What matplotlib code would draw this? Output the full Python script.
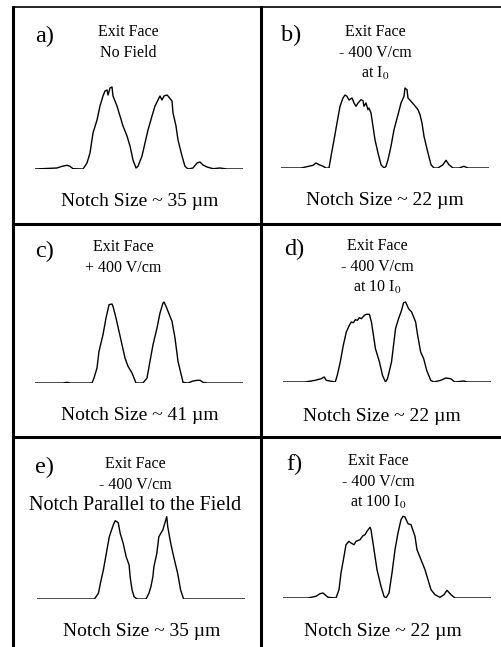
"""Exit face notch profiles, six panels."""
import matplotlib
matplotlib.use("Agg")
import matplotlib.pyplot as plt
from matplotlib.lines import Line2D

plt.rcParams['font.family'] = ['Liberation Serif', 'DejaVu Serif']
plt.rcParams['mathtext.fontset'] = 'stix'

W, H = 502, 647

# scan profiles: position (a.u.) and intensity (a.u.)
pos_a = [0, 22, 27, 32, 35, 38, 48, 52, 55, 58, 62, 65, 68, 70, 72, 73, 75, 77, 78,
         82, 85, 88, 92, 95, 98, 101, 103, 107, 110, 113, 117, 120, 123, 125, 127,
         129, 132, 133, 137, 138, 141, 143, 147, 150, 153, 158, 162, 165, 168, 172,
         178, 185, 192, 208]
int_a = [0, 1, 2.7, 3.7, 2.7, 0.3, 0, 6, 16, 36, 49, 63, 73, 78, 79, 74, 81, 82, 73,
         63, 53, 43, 33, 23, 9, 1, 2.7, 13, 26, 39, 53, 63, 69, 73, 69,
         73, 74, 73, 68, 56, 43, 29, 13, 2.7, 0, 1, 6, 7, 4, 2,
         0.3, 1, 0, 0]

pos_b = [0, 20, 32, 35, 38, 42, 45, 48, 50, 53, 56, 59, 62, 64, 66, 68, 71, 73, 75,
         77, 80, 82, 83, 85, 87, 88, 90, 92, 94, 97, 100, 103, 105, 107, 110, 113,
         117, 120, 123, 124, 126, 127, 130, 133, 137, 139, 141, 143, 147, 150, 153,
         157, 162, 165, 168, 172, 178, 183, 187, 208]
int_b = [0, 0, 2.7, 5, 3.3, 1.7, 0, 0, 11.7, 28, 45, 61.7, 70, 73, 71.7, 68, 70, 65, 61.7,
         65, 68.3, 67.3, 61.7, 65, 58.3, 60, 55, 41.7, 28.3, 15, 3.3, 0, 1.7, 8.3, 21.7, 38.3,
         53.3, 65, 71.7, 80, 78.3, 70, 66.7, 63.3, 58.3, 53.3, 45, 31.7, 15, 3.3, 0,
         0, 3.3, 7.7, 3.3, 0, 0, 1.7, 0, 0]

pos_c = [0, 28, 32, 35, 57, 59, 62, 64, 68, 71, 74, 77, 78, 81, 84, 87, 90, 93, 97,
         99, 101, 108, 112, 115, 118, 122, 125, 128, 129, 131, 133, 137, 140, 143,
         147, 148, 153, 157, 162, 165, 168, 172, 208]
int_c = [0, 0, 0.7, 0, 0, 5, 15, 31.7, 48.3, 65, 78.3, 79, 76.7, 65, 51.7, 38.3, 25, 16.7, 10,
         5, 0, 0, 5, 21.7, 38.3, 55, 70, 80, 81, 76.7, 71.7, 61.7, 45, 21.7,
         5, 0.7, 0, 1.7, 2.7, 2.7, 0.7, 0, 0]

pos_d = [0, 22, 32, 38, 41, 43, 52, 54, 57, 60, 63, 66, 68, 70, 72, 74, 76, 78, 81,
         83, 86, 88, 90, 92, 96, 99, 102, 104, 108, 110, 112, 115, 118, 120, 122,
         125, 128, 132, 134, 137, 140, 143, 147, 150, 157, 162, 167, 171, 180, 183, 207]
int_d = [0, 0, 1.7, 3.3, 5, 1.7, 0, 6.7, 20, 36.7, 50, 56.7, 60, 59.3, 62.3, 61.7, 64.3, 63.3, 66.7,
         67.7, 67.7, 60, 46.7, 33.3, 20, 6.7, 0, 3.3, 20, 36.7, 53.3, 63.3, 71.7, 79.3, 80,
         73.3, 70, 60, 46.7, 30, 23.3, 11.7, 1.7, 0, 1.7, 4, 3.3, 0, 1, 0, 0]

pos_e = [0, 58, 62, 64, 67, 70, 73, 77, 79, 82, 84, 87, 90, 93, 94, 96, 98, 101, 110,
         113, 115, 117, 118, 121, 123, 127, 129, 131, 132, 135, 138, 142, 145, 148, 210]
int_e = [0, 0, 5.7, 15.7, 29, 45.7, 62.3, 74, 78.3, 76.3, 65.7, 55.7, 42.3, 34, 22.3, 9, 2.3, 0, 0,
         5.7, 12.3, 22.3, 32.3, 45.7, 62.3, 69, 75.7, 82.3, 72.3, 55.7, 42.3, 25.7, 9, 0, 0]

pos_f = [0, 25, 33, 37, 40, 42, 45, 53, 56, 58, 61, 63, 66, 68, 71, 73, 77, 80, 82,
         84, 87, 88, 91, 94, 98, 101, 103, 106, 109, 112, 115, 118, 120, 122, 125,
         128, 132, 134, 138, 142, 145, 148, 152, 157, 161, 164, 168, 172, 208]
int_f = [0, 0, 1.7, 4.3, 5, 3.3, 0.7, 0, 8.3, 25, 41.7, 53.3, 56.7, 55, 53.3, 56.7, 58.3, 62.3, 63.3,
         66.7, 70.7, 68.3, 48.3, 28.3, 11.7, 1.7, 0, 5, 25, 48.3, 65, 78.3, 81.7, 81, 74.3,
         73.3, 61.7, 48.3, 38.3, 28.3, 18.3, 8.3, 3.3, 0.7, 3.3, 7.7, 3.3, 0, 0]

labels = ['a)', 'b)', 'c)', 'd)', 'e)', 'f)']
titles = [
    ['Exit Face', 'No Field'],
    ['Exit Face', '- 400 V/cm', r'at I$_0$'],
    ['Exit Face', '+ 400 V/cm'],
    ['Exit Face', '- 400 V/cm', r'at 10 I$_0$'],
    ['Exit Face', '- 400 V/cm', 'Notch Parallel to the Field'],
    ['Exit Face', '- 400 V/cm', r'at 100 I$_0$'],
]
notch_sizes = [35, 22, 41, 22, 35, 22]
profiles = [(pos_a, int_a), (pos_b, int_b), (pos_c, int_c),
            (pos_d, int_d), (pos_e, int_e), (pos_f, int_f)]

# layout in pixels (from top-left)
curve_left = [35, 281, 35, 283, 37, 283]
curve_base = [169, 168, 383, 382, 599, 598]
title_x = [128, 375, 123, 377, 135, 378]
title_y0 = [36, 36, 251, 250, 468, 465]
label_x = [35, 281, 35, 284, 35, 286]
label_y = [42, 41, 257, 255, 473, 470]
notch_x = [140, 385, 140, 382, 142, 383]
notch_y = [206, 205, 420, 421, 636, 636]


def fx(x):
    return x / W


def fy(y):
    return 1 - y / H


fig = plt.figure(figsize=(W / 100, H / 100), dpi=100)

for i, (p, v) in enumerate(profiles):
    ax = fig.add_axes([fx(curve_left[i]), fy(curve_base[i]), fx(208), 85 / H])
    ax.plot(p, v, color='black', lw=1.0)
    ax.set_xlim(0, p[-1])
    ax.set_ylim(0, 85)
    ax.axis('off')

    fig.text(fx(label_x[i]), fy(label_y[i]), labels[i], fontsize=17.5,
             ha='left', va='baseline')
    for k, line in enumerate(titles[i]):
        # the long third line in e) is set larger in the original
        fs = 14.5 if len(line) > 20 else 11.5
        fig.text(fx(title_x[i]), fy(title_y0[i] + 21 * k), line, fontsize=fs,
                 ha='center', va='baseline')
    fig.text(fx(notch_x[i]), fy(notch_y[i]),
             'Notch Size ~ %d \u00b5m' % notch_sizes[i], fontsize=14,
             ha='center', va='baseline')

# panel frame
frame = [
    ([13, 13], [7, 647], 2.2),
    ([261, 261], [7, 647], 2.2),
    ([13, 502], [7, 7], 1.2),
    ([13, 502], [224, 224], 2.2),
    ([13, 502], [437, 437], 2.2),
]
for xs, ys, lw in frame:
    fig.add_artist(Line2D([fx(x) for x in xs], [fy(y) for y in ys],
                          transform=fig.transFigure, color='black', lw=lw))

fig.savefig('out.png', dpi=100)
